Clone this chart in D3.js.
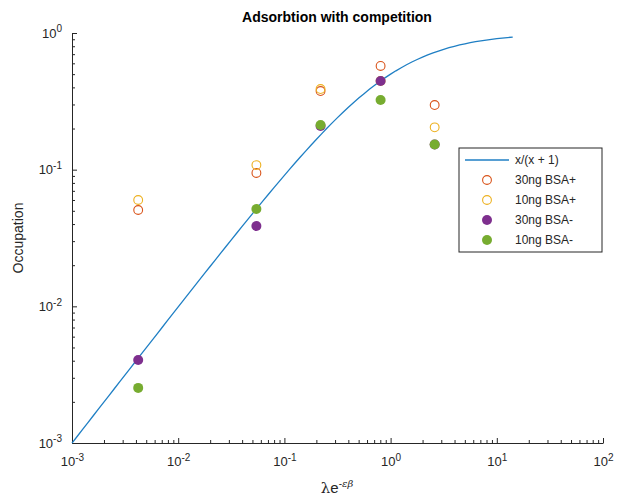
<!DOCTYPE html>
<html>
<head>
<meta charset="utf-8">
<script src="https://cdn.jsdelivr.net/npm/d3@7"></script>
<style>
  body { margin: 0; background: #fff; }
  text { font-family: "Liberation Sans", Arial, sans-serif; fill: #262626; }
</style>
</head>
<body>
<div id="chart"></div>
<script>
const WIDTH = 617;
const HEIGHT = 499;
const MARGIN = { LEFT: 72, TOP: 33 };

// DATA
const xValues = [0.0042, 0.0545, 0.219, 0.805, 2.6];
const bsa30Plus = [0.0507, 0.0946, 0.376, 0.574, 0.297];
const bsa10Plus = [0.060, 0.108, 0.389, 0.446, 0.204];
const bsa30Minus = [0.00405, 0.0387, 0.209, 0.446, 0.153];
const bsa10Minus = [0.00253, 0.0516, 0.212, 0.323, 0.153];
const curveX = d3.range(-3, 1.151, 0.05).map((e) => Math.pow(10, e));
const xTicks = [1e-3, 1e-2, 1e-1, 1e0, 1e1, 1e2];
const yTicks = [1e-3, 1e-2, 1e-1, 1e0];

const series = [
  { name: "30ng BSA+", values: bsa30Plus, color: "#D95319", filled: false },
  { name: "10ng BSA+", values: bsa10Plus, color: "#EDB120", filled: false },
  { name: "30ng BSA-", values: bsa30Minus, color: "#7E2F8E", filled: true },
  { name: "10ng BSA-", values: bsa10Minus, color: "#77AC30", filled: true },
];
const LINE_COLOR = "#1f7fc4";

const svg = d3
  .select("#chart")
  .append("svg")
  .attr("width", WIDTH)
  .attr("height", HEIGHT);

const chart = svg
  .append("g")
  .attr("transform", `translate(${MARGIN.LEFT}, ${MARGIN.TOP})`);

const x = d3.scaleLog().domain([1e-3, 1e2]).range([0, 531]);
const y = d3.scaleLog().domain([1e-3, 1e0]).range([410, 0]);

// minor ticks for a log scale
function minors(domain) {
  const out = [];
  for (let e = Math.log10(domain[0]); e < Math.log10(domain[1]); e++) {
    for (let m = 2; m <= 9; m++) out.push(m * Math.pow(10, e));
  }
  return out;
}

function superLabels(g) {
  g.selectAll(".tick text").each(function (d) {
    const t = d3.select(this);
    t.text(null);
    t.append("tspan").text("10");
    t.append("tspan")
      .attr("dy", "-0.55em")
      .attr("font-size", "10px")
      .text(Math.round(Math.log10(d)));
  });
}

// AXIS
const xAxisGroup = chart
  .append("g")
  .attr("transform", `translate(0, ${y.range()[0]})`);
xAxisGroup
  .call(d3.axisBottom(x).tickValues(minors(x.domain())).tickSize(-3).tickFormat(""))
  .call((g) => g.select(".domain").remove());
xAxisGroup
  .append("g")
  .call(d3.axisBottom(x).tickValues(xTicks).tickSize(-5).tickPadding(14).tickSizeOuter(0))
  .call(superLabels);

const yAxisGroup = chart.append("g");
yAxisGroup
  .call(d3.axisLeft(y).tickValues(minors(y.domain())).tickSize(-3).tickFormat(""))
  .call((g) => g.select(".domain").remove());
yAxisGroup
  .append("g")
  .call(d3.axisLeft(y).tickValues(yTicks).tickSize(-5).tickPadding(10).tickSizeOuter(0))
  .call(superLabels);

svg.selectAll(".tick line").attr("stroke", "#262626");
svg.selectAll(".domain").attr("stroke", "#262626");
svg.selectAll(".tick text").attr("font-size", "13px").attr("fill", "#262626");

// CURVE
const line = d3
  .line()
  .x((d) => x(d))
  .y((d) => y(d / (d + 1)));
chart
  .append("path")
  .datum(curveX)
  .attr("fill", "none")
  .attr("stroke", LINE_COLOR)
  .attr("stroke-width", 1.3)
  .attr("d", line);

// POINTS
series.forEach((s) => {
  chart
    .append("g")
    .selectAll("circle")
    .data(s.values)
    .join("circle")
    .attr("cx", (d, i) => x(xValues[i]))
    .attr("cy", (d) => y(d))
    .attr("r", s.filled ? 5 : 4.4)
    .attr("fill", s.filled ? s.color : "none")
    .attr("stroke", s.color)
    .attr("stroke-width", s.filled ? 0 : 1.1);
});

// TITLE
svg
  .append("text")
  .attr("x", 337)
  .attr("y", 22)
  .attr("text-anchor", "middle")
  .attr("font-size", "14px")
  .attr("font-weight", "bold")
  .style("fill", "#000")
  .text("Adsorbtion with competition");

// LABELS
const xLabel = svg
  .append("text")
  .attr("x", 337)
  .attr("y", 493)
  .attr("text-anchor", "middle")
  .attr("font-size", "15px");
xLabel.append("tspan").attr("font-family", "DejaVu Serif").text("λ");
xLabel.append("tspan").text("e");
xLabel
  .append("tspan")
  .attr("dy", "-0.6em")
  .attr("font-size", "10px")
  .text("-");
xLabel
  .append("tspan")
  .attr("font-size", "10px")
  .attr("font-style", "italic")
  .attr("font-family", "DejaVu Serif")
  .text("εβ");

svg
  .append("text")
  .attr("transform", `translate(23, ${MARGIN.TOP + 205}) rotate(-90)`)
  .attr("text-anchor", "middle")
  .attr("font-size", "14px")
  .text("Occupation");

// LEGEND
const legend = svg.append("g").attr("transform", "translate(459, 148)");
legend
  .append("rect")
  .attr("width", 143)
  .attr("height", 104)
  .attr("fill", "#fff")
  .attr("stroke", "#262626")
  .attr("stroke-width", 1);
const rowY = (i) => 12 + i * 20;
legend
  .append("line")
  .attr("x1", 6)
  .attr("x2", 50)
  .attr("y1", rowY(0))
  .attr("y2", rowY(0))
  .attr("stroke", LINE_COLOR)
  .attr("stroke-width", 1.3);
legend
  .append("text")
  .attr("x", 56)
  .attr("y", rowY(0))
  .attr("dy", "0.35em")
  .attr("font-size", "12px")
  .text("x/(x + 1)");
series.forEach((s, i) => {
  legend
    .append("circle")
    .attr("cx", 28)
    .attr("cy", rowY(i + 1))
    .attr("r", s.filled ? 5 : 4.4)
    .attr("fill", s.filled ? s.color : "none")
    .attr("stroke", s.color)
    .attr("stroke-width", s.filled ? 0 : 1.1);
  legend
    .append("text")
    .attr("x", 56)
    .attr("y", rowY(i + 1))
    .attr("dy", "0.35em")
    .attr("font-size", "12px")
    .text(s.name);
});
</script>
</body>
</html>
